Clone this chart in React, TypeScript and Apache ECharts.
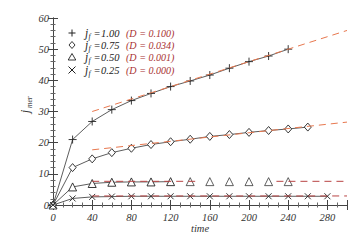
import React, { useEffect, useRef } from "react";
import * as echarts from "echarts";

const times100 = [0, 20, 40, 60, 80, 100, 120, 140, 160, 180, 200, 220, 240];
const j100 = [0, 21, 26.8, 30.6, 33.5, 35.8, 38, 39.8, 41.7, 43.9, 46, 47.8, 50];
const times075 = [0, 20, 40, 60, 80, 100, 120, 140, 160, 180, 200, 220, 240, 260];
const j075 = [0, 12, 14.8, 16.8, 18.2, 19.4, 20.3, 21.1, 22, 22.6, 23.3, 23.9, 24.4, 25];
const times050 = [0, 20, 40, 60, 80, 100, 120, 140, 160, 180, 200, 220, 240];
const j050 = [0, 5.8, 6.9, 7.3, 7.4, 7.4, 7.5, 7.5, 7.5, 7.5, 7.5, 7.5, 7.5];
const times025 = [0, 20, 40, 60, 80, 100, 120, 140, 160, 180, 200, 220, 240, 260, 280];
const j025 = [0, 2.1, 2.6, 2.7, 2.8, 2.8, 2.8, 2.8, 2.8, 2.8, 2.8, 2.8, 2.8, 2.8, 2.8];

const fit100 = [[40, 30], [300, 56]];
const fit075 = [[40, 17.7], [300, 26.6]];
const fit050a = [[40, 7.6], [150, 7.6]];
const fit050b = [[228, 7.6], [300, 7.6]];
const fit025 = [[40, 2.9], [300, 2.9]];

const legendJ = ["1.00", "0.75", "0.50", "0.25"];
const legendD = ["0.100", "0.034", "0.001", "0.000"];

const SERIF = "Liberation Serif";
const PLUS = "path://M5,0L5,10M0,5L10,5";
const CROSS = "path://M0,0L10,10M10,0L0,10";

const zip = (xs: number[], ys: number[]) => xs.map((x, i) => [x, ys[i]]);

const txt = (x: number, y: number, text: string, size: number, fill: string, extra: any = {}) => ({
  type: "text",
  x,
  y,
  ...extra,
  style: {
    text,
    fontFamily: SERIF,
    fontStyle: "italic",
    fontSize: size,
    fill,
    verticalAlign: "middle",
  },
});

export default function App() {
  const ref = useRef<HTMLDivElement>(null);
  useEffect(() => {
    if (!ref.current) return;
    const chart = echarts.init(ref.current, null, { renderer: "svg" });
    const axisCommon = {
      type: "value" as const,
      axisLine: { show: true, lineStyle: { color: "#444", width: 1 } },
      axisTick: { show: true, inside: true, length: 5, lineStyle: { color: "#444" } },
      minorTick: { show: true, length: 2.5, lineStyle: { color: "#666" } },
      splitLine: { show: false },
    };
    const labelStyle = {
      fontFamily: SERIF,
      fontStyle: "italic" as const,
      fontSize: 10.5,
      color: "#333",
    };
    const black = { color: "#333", width: 0.8 };
    const dataLine = (data: number[][], symbol: string, size: any) => ({
      type: "line",
      data,
      symbol,
      symbolSize: size,
      showSymbol: true,
      lineStyle: black,
      itemStyle: { color: "#fff", borderColor: "#222", borderWidth: 0.9 },
      z: 3,
    });
    const pathMarks = (data: number[][], symbol: string, size: number) => ({
      type: "line",
      data,
      symbol,
      symbolSize: size,
      lineStyle: black,
      itemStyle: { color: "none", borderColor: "#222", borderWidth: 0.9 },
      z: 3,
    });
    const fit = (data: number[][], color: string) => ({
      type: "line",
      data,
      symbol: "none",
      lineStyle: { color, width: 1, type: [7, 5] },
      z: 4,
    });

    const rowsY = [33, 45, 57, 70];
    const legendGraphics: any[] = [];
    rowsY.forEach((y, i) => {
      const sx = 72;
      if (i === 0) {
        legendGraphics.push(
          { type: "line", shape: { x1: sx - 3.5, y1: y, x2: sx + 3.5, y2: y }, style: { stroke: "#222", lineWidth: 1 } },
          { type: "line", shape: { x1: sx, y1: y - 3.5, x2: sx, y2: y + 3.5 }, style: { stroke: "#222", lineWidth: 1 } }
        );
      } else if (i === 1) {
        legendGraphics.push({
          type: "polygon",
          shape: { points: [[sx, y - 3.5], [sx + 3, y], [sx, y + 3.5], [sx - 3, y]] },
          style: { fill: "none", stroke: "#222", lineWidth: 0.9 },
        });
      } else if (i === 2) {
        legendGraphics.push({
          type: "polygon",
          shape: { points: [[sx, y - 3.5], [sx + 3.8, y + 3], [sx - 3.8, y + 3]] },
          style: { fill: "none", stroke: "#222", lineWidth: 0.9 },
        });
      } else {
        legendGraphics.push(
          { type: "line", shape: { x1: sx - 3.5, y1: y - 3.5, x2: sx + 3.5, y2: y + 3.5 }, style: { stroke: "#222", lineWidth: 1 } },
          { type: "line", shape: { x1: sx + 3.5, y1: y - 3.5, x2: sx - 3.5, y2: y + 3.5 }, style: { stroke: "#222", lineWidth: 1 } }
        );
      }
      legendGraphics.push(
        txt(85, y, "j", 11.5, "#222"),
        txt(88.5, y + 3.5, "f", 7.5, "#222"),
        txt(93.5, y, "=", 10.5, "#222"),
        txt(101, y, legendJ[i], 10.5, "#222"),
        txt(126, y, "(D = " + legendD[i] + ")", 10.5, "#a83232", { scaleX: 0.96 })
      );
    });

    chart.setOption({
      animation: false,
      backgroundColor: "#fff",
      grid: { left: 53, right: 16, top: 18, bottom: 37 },
      xAxis: [
        {
          ...axisCommon,
          min: 0,
          max: 300,
          interval: 40,
          minorTick: { ...axisCommon.minorTick, splitNumber: 4 },
          axisLabel: { ...labelStyle, margin: 7, showMaxLabel: false },
        },
        {
          ...axisCommon,
          position: "top",
          min: 0,
          max: 300,
          interval: 40,
          minorTick: { ...axisCommon.minorTick, splitNumber: 4 },
          axisLabel: { show: false },
        },
      ],
      yAxis: [
        {
          ...axisCommon,
          min: 0,
          max: 60,
          interval: 10,
          minorTick: { ...axisCommon.minorTick, splitNumber: 5 },
          axisLabel: { ...labelStyle, margin: 4 },
        },
        {
          ...axisCommon,
          position: "right",
          min: 0,
          max: 60,
          interval: 10,
          minorTick: { ...axisCommon.minorTick, splitNumber: 5 },
          axisLabel: { show: false },
        },
      ],
      series: [
        fit(fit100, "#e8784f"),
        fit(fit075, "#e8784f"),
        fit(fit050a, "#b84444"),
        fit(fit050b, "#b84444"),
        fit(fit025, "#b84444"),
        pathMarks(zip(times100, j100), PLUS, 8),
        dataLine(zip(times075, j075), "diamond", [7, 8]),
        dataLine(zip(times050.slice(0, 7), j050.slice(0, 7)), "triangle", 8),
        {
          type: "scatter",
          data: zip(times050.slice(7), j050.slice(7)),
          symbol: "triangle",
          symbolSize: 8,
          itemStyle: { color: "#fff", borderColor: "#222", borderWidth: 0.9 },
          z: 3,
        },
        pathMarks(zip(times025, j025), CROSS, 6),
      ],
      graphic: [
        ...legendGraphics,
        txt(191, 228, "time", 10.5, "#333"),
        txt(25, 113, "j", 11.5, "#333", { rotation: Math.PI / 2 }),
        txt(29, 108, "mer", 7.5, "#333", { rotation: Math.PI / 2 }),
      ],
    });
    return () => chart.dispose();
  }, []);
  return <div ref={ref} style={{ width: 363, height: 242, position: "absolute", left: 0, top: 0 }} />;
}
